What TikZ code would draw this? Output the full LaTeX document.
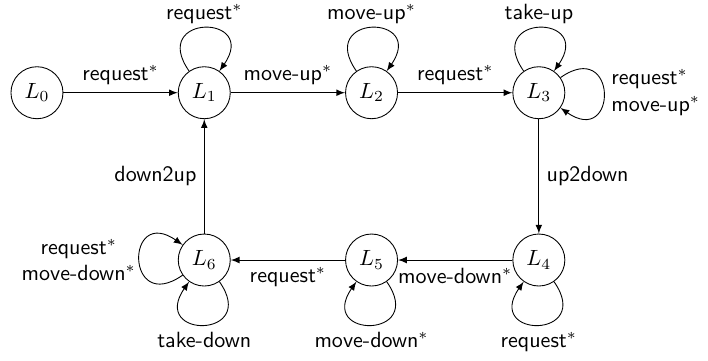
\documentclass[tikz,border=0pt]{standalone}
\usepackage{mathtools}
\usepackage{tikz}
\usetikzlibrary{shapes}

\begin{document}
\begin{tikzpicture}[>=latex,font=\sffamily,
                loc/.style={circle,draw,minimum size=0.83cm,inner sep=0pt},
                looptext/.style={inner sep=1.5pt},
                loopup/.style={out=125,in=55,distance=1.12cm},
                loopdown/.style={out=-55,in=-125,distance=1.12cm},
                loopleft/.style={out=215,in=145,distance=1.12cm},
                loopright/.style={out=35,in=-35,distance=1.12cm}]
                \useasboundingbox (-0.59,1.48) rectangle (10.71,-4.27);
                \node[loc] (l0) at (0,0) {$L_0$};
                \node[loc] (l1) at (2.67,0) {$L_1$};
                \node[loc] (l2) at (5.34,0) {$L_2$};
                \node[loc] (l3) at (8.01,0) {$L_3$};
                \node[loc] (l4) at (8.01,-2.67) {$L_4$};
                \node[loc] (l5) at (5.34,-2.67) {$L_5$};
                \node[loc] (l6) at (2.67,-2.67) {$L_6$};

                \path[->] (l0) edge node[above] {request$^*$} (l1);
                \path[->] (l1) edge node[above] {move-up$^*$} (l2);
                \path[->] (l2) edge node[above] {request$^*$} (l3);
                \path[->] (l3) edge node[right] {up2down} (l4);
                \path[->] (l4) edge node[below] {move-down$^*$} (l5);
                \path[->] (l5) edge node[below] {request$^*$} (l6);
                \path[->] (l6) edge node[left] {down2up} (l1);

                \path[->] (l1) edge [loopup] node[above,looptext] {request$^*$} (l1);
                \path[->] (l2) edge [loopup] node[above,looptext] {move-up$^*$} (l2);
                \path[->] (l3) edge [loopup] node[above,looptext] {take-up} (l3);
                \path[->] (l3) edge [loopright] node[right,align=left] {request$^*$\\move-up$^*$} (l3);
                \path[->] (l4) edge [loopdown] node[below] {request$^*$} (l4);
                \path[->] (l5) edge [loopdown] node[below] {move-down$^*$} (l5);
                \path[->] (l6) edge [loopdown] node[below] {take-down} (l6);
                \path[->] (l6) edge [loopleft] node[left,align=center,looptext] {request$^*$\\move-down$^*$} (l6);
            \end{tikzpicture}
\end{document}
